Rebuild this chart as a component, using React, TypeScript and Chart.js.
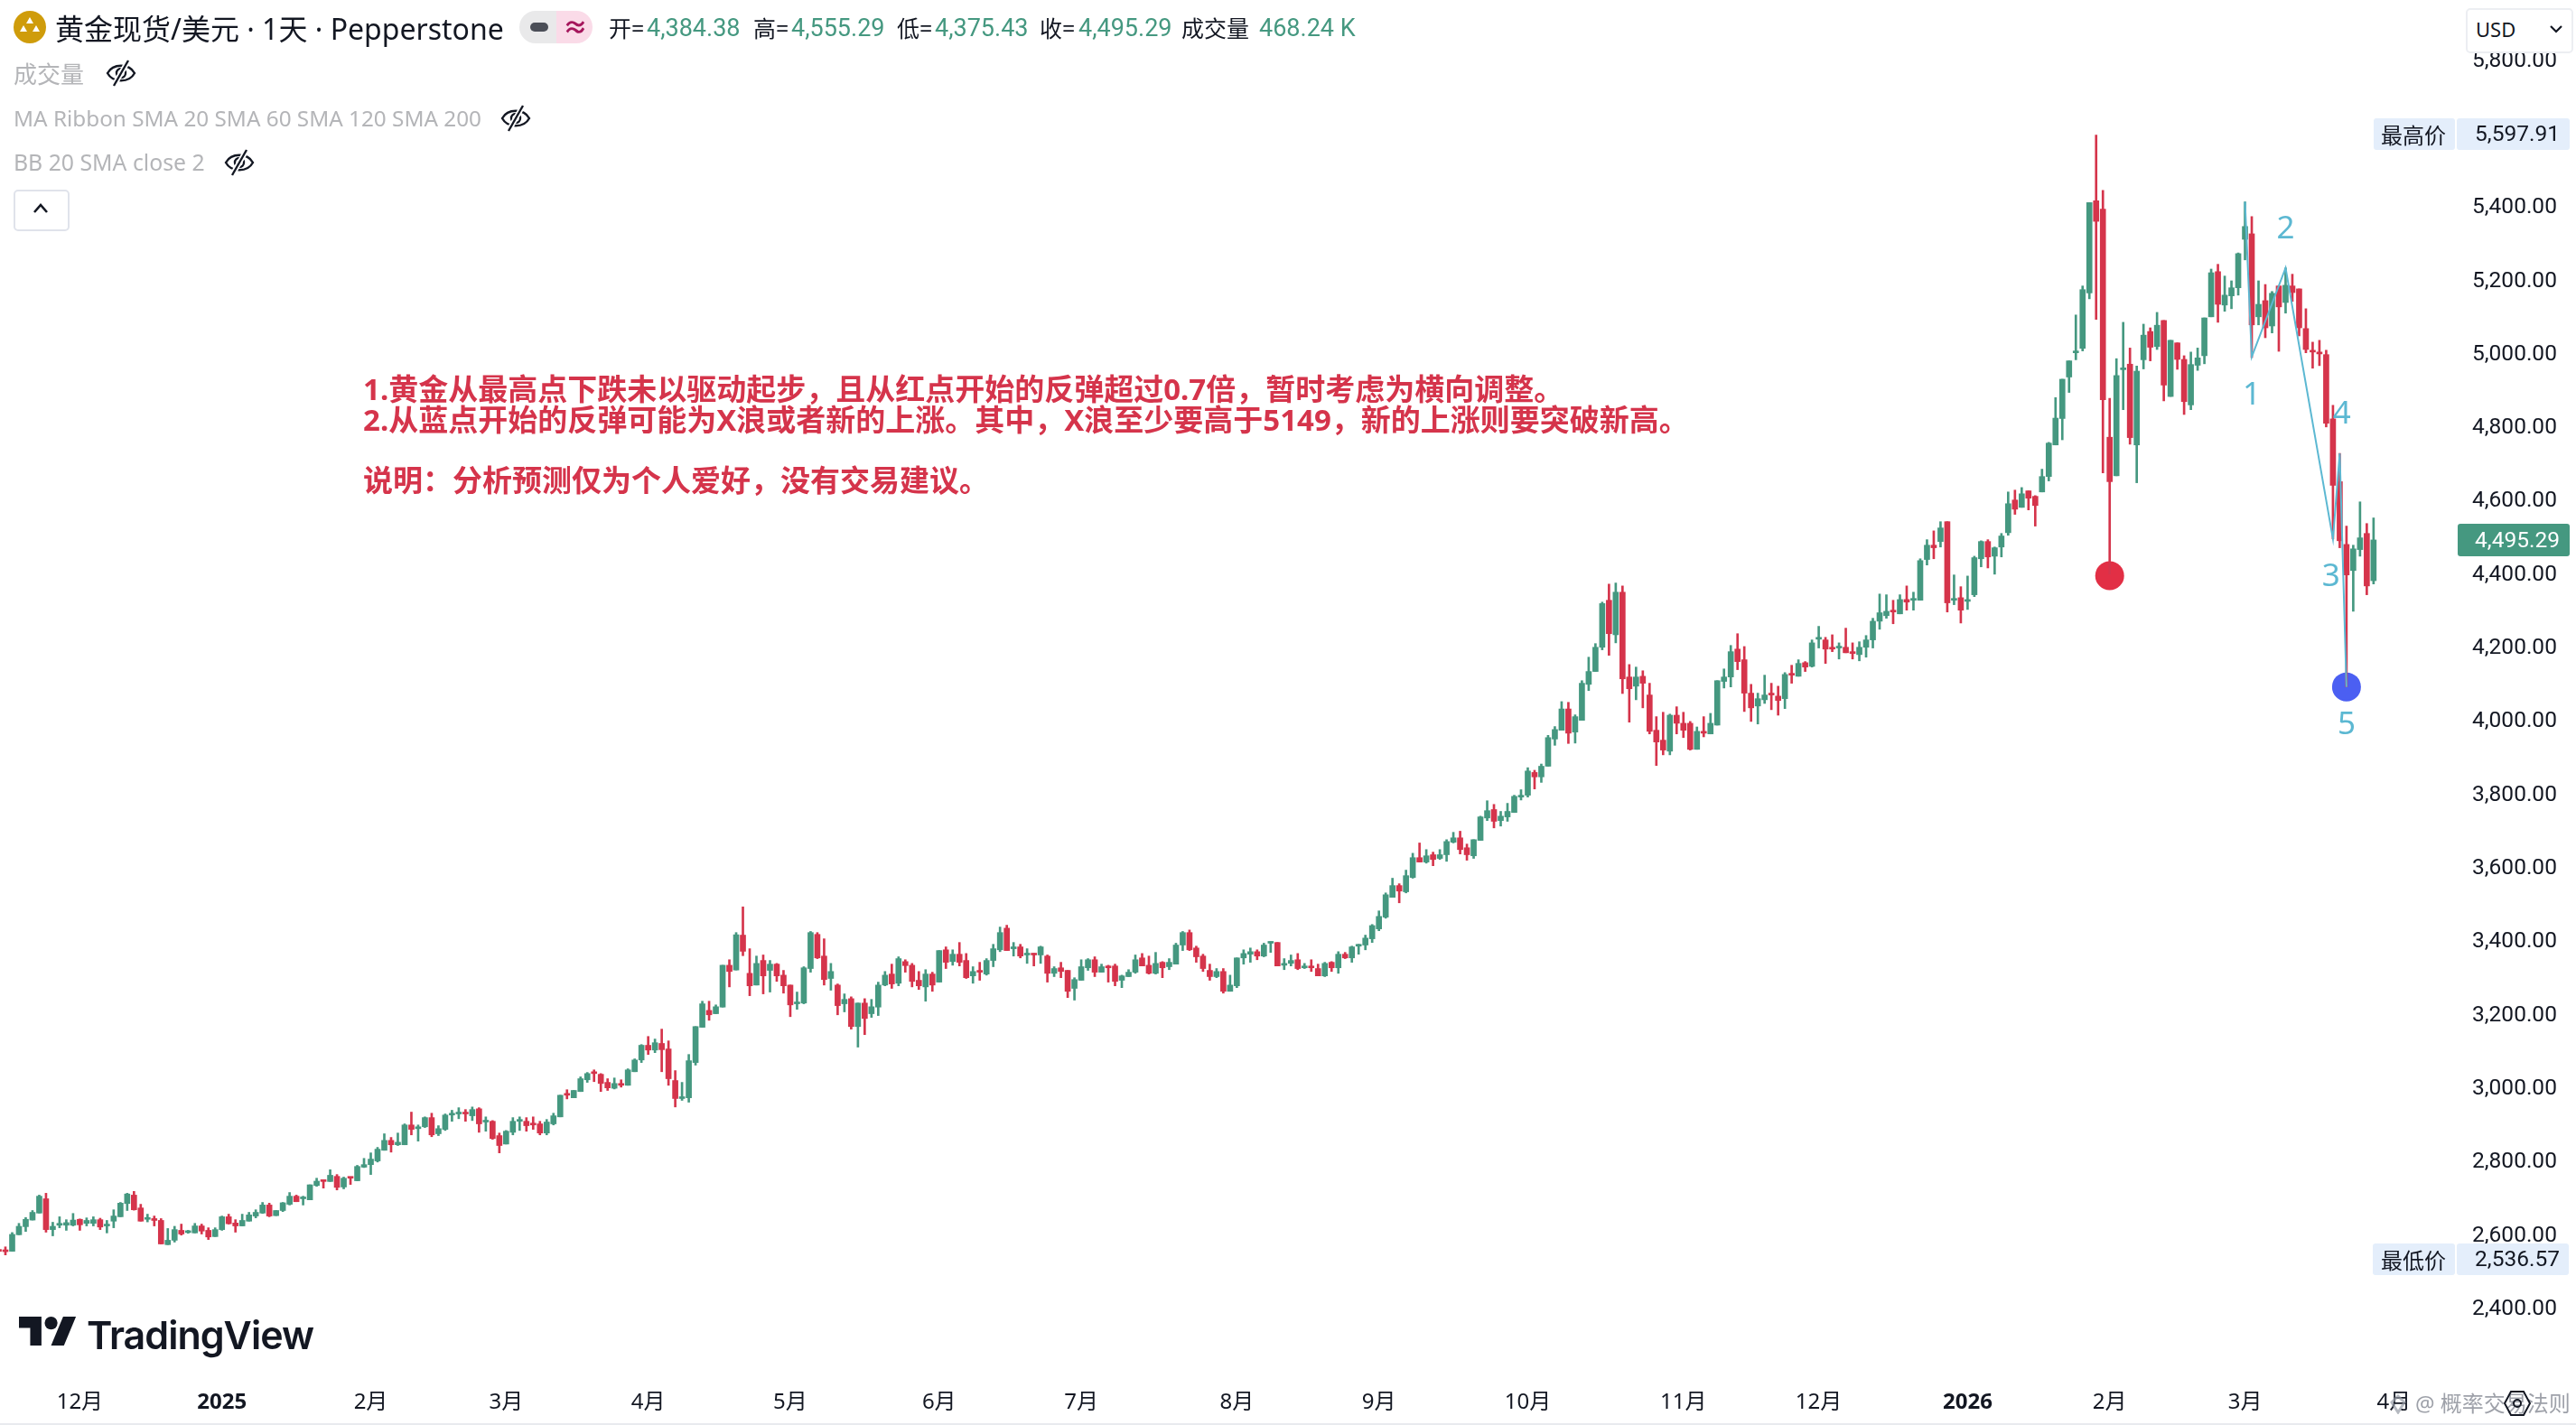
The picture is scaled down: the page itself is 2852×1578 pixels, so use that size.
import React, { useEffect, useRef } from "react";
import { Chart, registerables } from "chart.js";

Chart.register(...registerables);

const opens = [
  2563,2561,2558,2603,2625,2643,2662,2701,2617,2629,
  2629,2629,2645,2634,2634,2644,2627,2640,2652,2688,
  2711,2676,2645,2647,2642,2576,2588,2615,2609,2608,
  2627,2615,2598,2617,2652,2635,2627,2640,2654,2662,
  2684,2655,2669,2686,2708,2701,2698,2737,2752,2748,
  2762,2733,2759,2750,2787,2794,2804,2833,2860,2848,
  2848,2902,2892,2897,2922,2878,2890,2929,2932,2934,
  2927,2946,2910,2912,2873,2850,2882,2912,2912,2907,
  2905,2880,2905,2924,2986,2976,2993,3025,3045,3040,
  3018,3002,3015,3010,3047,3079,3119,3106,3124,3109,
  3023,2974,2976,3072,3168,3214,3205,3223,3337,3324,
  3419,3315,3283,3350,3323,3340,3310,3283,3232,3234,
  3328,3421,3362,3301,3283,3232,3246,3170,3234,3205,
  3223,3283,3313,3288,3347,3337,3296,3278,3313,3291,
  3379,3347,3367,3350,3308,3323,3313,3350,3379,3438,
  3382,3387,3365,3367,3365,3362,3315,3330,3323,3274,
  3296,3330,3352,3318,3335,3335,3296,3306,3318,3357,
  3337,3315,3345,3333,3340,3392,3426,3384,3362,3323,
  3306,3320,3266,3281,3357,3367,3374,3362,3397,3399,
  3337,3342,3352,3330,3333,3328,3308,3345,3330,3367,
  3357,3389,3392,3409,3436,3468,3522,3554,3537,3576,
  3630,3618,3638,3628,3638,3672,3684,3657,3635,3677,
  3738,3761,3731,3741,3753,3795,3800,3862,3850,3879,
  3953,3977,4035,3972,4004,4102,4137,4203,4331,4237,
  4353,4122,4097,4124,4073,3977,3950,3920,4018,3996,
  3996,3925,3974,3967,3991,4110,4122,4198,4169,4078,
  4043,4060,4078,4070,4063,4132,4124,4161,4151,4225,
  4223,4203,4201,4203,4191,4183,4203,4223,4274,4289,
  4304,4294,4333,4331,4331,4442,4481,4491,4545,4331,
  4338,4328,4346,4444,4491,4451,4476,4515,4604,4584,
  4629,4614,4626,4668,4754,4826,4939,5005,5017,5168,
  5419,5396,4775,4670,4959,4974,4754,4986,5063,5022,
  5093,4886,5032,4987,4863,4971,4997,5103,5226,5135,
  5160,5182,5314,5329,5103,5147,5078,5187,5142,5187,
  5179,5071,5010,5007,5000,4825,4654,4483,4412,4469,4513,4384.38,
];

const highs = [
  2566,2570,2609,2634,2650,2669,2711,2716,2637,2652,
  2644,2661,2646,2649,2652,2648,2642,2671,2691,2716,
  2721,2686,2659,2654,2647,2620,2626,2632,2615,2634,
  2632,2622,2622,2654,2659,2644,2659,2664,2671,2691,
  2689,2669,2691,2718,2711,2708,2739,2757,2752,2780,
  2767,2760,2759,2792,2811,2826,2841,2878,2868,2880,
  2905,2937,2902,2924,2934,2900,2932,2942,2949,2944,
  2951,2949,2924,2914,2880,2887,2922,2924,2922,2924,
  2912,2917,2934,2983,2998,2996,3033,3045,3052,3042,
  3028,3030,3025,3055,3082,3121,3143,3136,3163,3131,
  3050,3018,3094,3170,3239,3239,3229,3337,3352,3426,
  3496,3382,3362,3365,3350,3342,3323,3283,3264,3333,
  3429,3426,3409,3342,3286,3259,3251,3234,3246,3244,
  3291,3320,3340,3360,3352,3342,3320,3325,3318,3377,
  3387,3379,3399,3369,3333,3345,3355,3394,3441,3446,
  3399,3394,3382,3369,3389,3365,3333,3345,3323,3303,
  3352,3355,3360,3340,3337,3340,3310,3325,3365,3369,
  3362,3372,3347,3355,3397,3429,3433,3389,3367,3340,
  3328,3328,3310,3357,3379,3384,3379,3397,3401,3399,
  3355,3365,3369,3342,3352,3340,3345,3347,3374,3372,
  3389,3394,3419,3448,3485,3534,3574,3559,3596,3642,
  3670,3652,3645,3652,3679,3699,3702,3667,3679,3743,
  3785,3775,3756,3778,3800,3815,3875,3868,3885,3963,
  3987,4055,4053,4019,4112,4176,4213,4326,4375,4378,
  4370,4156,4149,4139,4105,4014,4026,4021,4041,4026,
  4001,3986,4014,4023,4112,4144,4208,4240,4205,4102,
  4078,4127,4105,4097,4134,4154,4169,4164,4223,4260,
  4230,4237,4215,4255,4215,4218,4235,4282,4348,4346,
  4331,4346,4370,4353,4444,4496,4520,4545,4545,4400,
  4368,4397,4451,4493,4496,4476,4513,4626,4631,4638,
  4629,4616,4688,4761,4883,4933,4983,5108,5187,5414,
  5597.91,5447,4881,4989,5088,5018,4969,5083,5073,5115,
  5093,5039,5032,4997,5007,5018,5100,5233,5246,5214,
  5201,5277,5416,5376,5201,5191,5172,5187,5236,5219,
  5179,5125,5034,5039,5012,4862,4731,4533,4481,4599,4540,4555.29,
];

const lows = [
  2555,2548,2558,2603,2612,2643,2662,2610,2600,2622,
  2615,2627,2615,2627,2627,2617,2608,2622,2652,2669,
  2670,2640,2638,2627,2578,2576,2583,2602,2607,2608,
  2605,2590,2598,2615,2632,2610,2627,2640,2649,2661,
  2652,2655,2666,2684,2693,2684,2698,2735,2730,2748,
  2725,2728,2740,2750,2786,2767,2801,2833,2828,2846,
  2848,2875,2858,2895,2870,2873,2887,2912,2919,2912,
  2914,2882,2885,2863,2826,2850,2875,2887,2885,2890,
  2875,2875,2902,2924,2973,2976,2993,3018,3020,2993,
  2996,3000,3005,3010,3047,3072,3094,3099,3047,3010,
  2951,2969,2964,3065,3168,3187,3205,3223,3278,3324,
  3363,3254,3283,3259,3264,3293,3261,3197,3217,3232,
  3318,3355,3283,3269,3202,3210,3163,3114,3148,3195,
  3200,3281,3274,3281,3318,3278,3271,3239,3266,3291,
  3328,3337,3335,3301,3288,3296,3310,3333,3374,3377,
  3362,3357,3342,3335,3342,3291,3306,3303,3249,3242,
  3296,3323,3306,3318,3291,3281,3276,3306,3315,3335,
  3313,3313,3303,3325,3340,3377,3377,3345,3320,3296,
  3303,3261,3266,3276,3340,3345,3352,3360,3372,3335,
  3325,3335,3325,3328,3320,3308,3306,3320,3315,3355,
  3345,3367,3379,3399,3431,3465,3522,3507,3534,3574,
  3618,3615,3608,3625,3620,3670,3640,3623,3628,3677,
  3731,3711,3716,3729,3753,3787,3795,3817,3835,3879,
  3936,3977,3941,3942,4004,4085,4137,4196,4181,4215,
  4077,3999,4060,4038,3967,3881,3910,3910,3967,3957,
  3923,3925,3959,3967,3991,4092,4095,4142,4028,4001,
  3994,4050,4033,4018,4036,4105,4124,4137,4149,4201,
  4159,4191,4171,4188,4171,4166,4176,4201,4252,4282,
  4267,4294,4304,4304,4331,4427,4444,4476,4299,4319,
  4269,4306,4341,4422,4419,4402,4449,4508,4565,4584,
  4577,4533,4626,4656,4754,4768,4897,4986,5010,5152,
  5096,4678,4402,4670,4850,4756,4651,4961,4983,5014,
  4874,4886,4960,4837,4850,4957,4975,5103,5088,5118,
  5125,5162,5258,4992,5081,5046,5059,5009,5113,5145,
  5051,5005,4963,4970,4803,4498,4474,4095,4301,4451,4346,4375.43,
];

const closes = [
  2558,2557,2604,2626,2645,2664,2708,2617,2626,2634,
  2636,2643,2630,2642,2644,2624,2630,2654,2689,2714,
  2671,2640,2649,2642,2578,2588,2617,2605,2612,2627,
  2613,2597,2617,2652,2633,2627,2642,2657,2664,2684,
  2654,2669,2690,2708,2693,2703,2739,2749,2748,2765,
  2732,2757,2757,2789,2794,2809,2836,2860,2848,2855,
  2902,2890,2897,2922,2875,2892,2929,2932,2934,2932,
  2944,2905,2912,2865,2846,2885,2912,2917,2900,2902,
  2880,2910,2927,2983,2983,2996,3028,3042,3042,3015,
  3003,3015,3010,3052,3079,3119,3106,3126,3107,3028,
  2974,2978,3077,3170,3232,3202,3224,3337,3320,3420,
  3375,3281,3342,3308,3340,3308,3281,3229,3237,3330,
  3426,3357,3298,3320,3227,3244,3170,3234,3192,3224,
  3283,3310,3286,3355,3336,3293,3281,3313,3283,3377,
  3345,3367,3345,3303,3320,3318,3350,3382,3426,3377,
  3387,3362,3367,3365,3387,3315,3328,3320,3266,3298,
  3333,3352,3318,3333,3330,3293,3308,3318,3352,3335,
  3315,3342,3330,3345,3392,3426,3379,3360,3328,3306,
  3320,3266,3283,3357,3369,3374,3362,3392,3399,3335,
  3342,3350,3328,3335,3330,3308,3342,3330,3367,3357,
  3387,3392,3411,3445,3470,3529,3554,3539,3581,3630,
  3618,3635,3625,3638,3674,3684,3652,3638,3679,3741,
  3758,3729,3743,3756,3797,3800,3866,3850,3879,3957,
  3979,4035,3969,4014,4105,4137,4203,4322,4240,4353,
  4117,4090,4122,4105,3974,3945,3923,4018,3996,3977,
  3925,3974,3969,3996,4112,4122,4191,4164,4078,4038,
  4063,4073,4073,4058,4129,4127,4159,4149,4215,4230,
  4198,4198,4205,4188,4186,4203,4223,4274,4297,4301,
  4299,4333,4326,4336,4439,4481,4474,4528,4324,4336,
  4304,4331,4447,4491,4449,4474,4506,4594,4579,4621,
  4609,4589,4668,4759,4827,4933,4983,5007,5177,5414,
  5363,4877,4654,4943,4962,4774,4955,5053,5020,5080,
  4917,5039,4987,4872,4973,4991,5100,5223,5137,5162,
  5182,5275,5349,5081,5137,5073,5167,5130,5189,5169,
  5073,5014,5007,5002,4813,4644,4493,4400,4471,4501,4370,4495.29,
];

const monthIndex = [12, 33, 55, 75, 96, 117, 139, 160, 183, 204, 226, 249, 269, 291, 312, 332, 354];
const monthLabels = ["12月", "2025", "2月", "3月", "4月", "5月", "6月", "7月", "8月", "9月", "10月", "11月", "12月", "2026", "2月", "3月", "4月"];
const priceTicks = [2400, 2600, 2800, 3000, 3200, 3400, 3600, 3800, 4000, 4200, 4400, 4600, 4800, 5000, 5200, 5400, 5600, 5800];

const waveIndex = [332, 333, 338, 345, 346, 347];
const wavePrice = [5416, 4994, 5236, 4498, 4731, 4095];
const waveLabelText = ["1", "2", "3", "4", "5"];
const waveLabelIndex = [333, 338, 344.7, 346.3, 347];
const waveLabelPrice = [4889, 5342, 4394, 4836, 3990];
const dotIndex = [312, 347];
const dotPrice = [4398, 4095];
const dotColor = ["#e22f45", "#4b5ff2"];

const GREEN = "#459880";
const RED = "#d5344b";
const WAVE = "#5cb8d2";
const UI_FONT = '"Noto Sans","Noto Sans CJK SC",sans-serif';
const NUM_FONT = 'Roboto,"Noto Sans CJK SC",sans-serif';

const isUp = (i: number) => closes[i] >= opens[i];
const candleColor = (c: any) => (isUp(c.dataIndex) ? GREEN : RED);

const waveLabelPlugin = {
  id: "waveLabels",
  afterDatasetsDraw(chart: any) {
    const { ctx, scales } = chart;
    ctx.save();
    ctx.font = `35px ${UI_FONT}`;
    ctx.fillStyle = WAVE;
    ctx.textAlign = "center";
    ctx.textBaseline = "middle";
    waveLabelText.forEach((t, i) => {
      ctx.fillText(t, scales.x.getPixelForValue(waveLabelIndex[i]), scales.y.getPixelForValue(waveLabelPrice[i]));
    });
    ctx.restore();
  },
};

function Txt({ x, y, size = 25, color = "#131722", weight = 400, right, font = UI_FONT, children }: any) {
  const style: any = {
    position: "absolute",
    top: y - size,
    height: size * 2,
    lineHeight: `${size * 2}px`,
    fontSize: size,
    color,
    fontWeight: weight,
    fontFamily: font,
    whiteSpace: "nowrap",
  };
  if (right !== undefined) style.right = 2852 - right;
  else style.left = x;
  return <div style={style}>{children}</div>;
}

function EyeOff({ x, y }: { x: number; y: number }) {
  return (
    <svg style={{ position: "absolute", left: x, top: y }} width="36" height="30" viewBox="0 0 36 30" fill="none" stroke="#131722" strokeWidth="2.4">
      <path d="M3 15C9 4 27 4 33 15C27 26 9 26 3 15Z" />
      <circle cx="18" cy="15" r="5" />
      <path d="M10 29L26 1" stroke="#fff" strokeWidth="6" />
      <path d="M10 29L26 1" />
    </svg>
  );
}

function Box({ x, y, w, h, bg, radius = 3 }: any) {
  return <div style={{ position: "absolute", left: x, top: y, width: w, height: h, background: bg, borderRadius: radius }} />;
}

export default function App() {
  const ref = useRef<HTMLCanvasElement>(null);

  useEffect(() => {
    document.body.style.margin = "0";
    document.body.style.background = "#fff";
    const idx = opens.map((_, i) => i);
    const chart = new Chart(ref.current as HTMLCanvasElement, {
      type: "bar",
      data: {
        datasets: [
          {
            type: "line",
            data: waveIndex.map((x, i) => ({ x, y: wavePrice[i] })),
            borderColor: WAVE,
            borderWidth: 2,
            pointRadius: 0,
            tension: 0,
            order: 1,
          },
          {
            type: "bar",
            data: idx.map((i) => ({ x: i, y: [opens[i], closes[i]] })),
            backgroundColor: candleColor,
            barThickness: 6,
            minBarLength: 2,
            grouped: false,
            order: 2,
          },
          {
            type: "bar",
            data: idx.map((i) => ({ x: i, y: [lows[i], highs[i]] })),
            backgroundColor: candleColor,
            barThickness: 2,
            grouped: false,
            order: 3,
          },
          {
            type: "line",
            data: dotIndex.map((x, i) => ({ x, y: dotPrice[i] })),
            showLine: false,
            pointRadius: 16,
            pointBackgroundColor: dotColor,
            pointBorderWidth: 0,
            order: 4,
          },
        ],
      } as any,
      options: {
        animation: false,
        responsive: false,
        devicePixelRatio: 1,
        layout: { padding: 0, autoPadding: false },
        plugins: { legend: { display: false }, tooltip: { enabled: false } },
        scales: {
          x: {
            type: "linear",
            offset: false,
            min: 0.2,
            max: 363.3,
            grid: { display: false, offset: false },
            border: { display: false },
            afterBuildTicks: (s: any) => {
              s.ticks = monthIndex.map((value) => ({ value }));
            },
            afterFit: (s: any) => {
              s.height = 58;
              s.paddingLeft = 0;
              s.paddingRight = 0;
            },
            ticks: {
              autoSkip: false,
              maxRotation: 0,
              padding: 11,
              color: "#131722",
              font: (c: any) => ({
                family: UI_FONT,
                size: 24,
                weight: monthLabels[monthIndex.indexOf(c.tick?.value)]?.length === 4 ? 700 : 400,
              }),
              callback: (v: any) => monthLabels[monthIndex.indexOf(v)],
            },
          },
          y: {
            position: "right",
            min: 2227.5,
            max: 5965.8,
            grid: { display: false },
            border: { display: false },
            afterBuildTicks: (s: any) => {
              s.ticks = priceTicks.map((value) => ({ value }));
            },
            afterFit: (s: any) => {
              s.width = 132;
              s.paddingTop = 0;
              s.paddingBottom = 0;
            },
            ticks: {
              autoSkip: false,
              padding: 9,
              color: "#131722",
              font: { family: NUM_FONT, size: 24.5 },
              callback: (v: any) => Number(v).toLocaleString("en-US", { minimumFractionDigits: 2, maximumFractionDigits: 2 }),
            },
          },
        },
      } as any,
      plugins: [waveLabelPlugin] as any,
    });
    return () => chart.destroy();
  }, []);

  return (
    <div style={{ position: "relative", width: 2852, height: 1578, overflow: "hidden", background: "#fff" }}>
      <canvas ref={ref} width={2852} height={1578} style={{ display: "block", width: 2852, height: 1578 }} />

      <Box x={2721} y={0} w={131} h={58} bg="#fff" radius={0} />
      <svg style={{ position: "absolute", left: 15, top: 12 }} width="36" height="36" viewBox="0 0 36 36">
        <circle cx="18" cy="18" r="18" fill="#cf9c0b" />
        <path d="M18 7l4 7h-8zM11 16l4 7H7zM25 16l4 7h-8z" fill="#fff" />
      </svg>
      <Txt x={61} y={32} size={32}>黄金现货/美元 · 1天 · Pepperstone</Txt>
      <div style={{ position: "absolute", left: 575, top: 12, width: 41, height: 36, background: "#e9e9ea", borderRadius: "18px 0 0 18px" }} />
      <div style={{ position: "absolute", left: 616, top: 12, width: 40, height: 36, background: "#fadbe8", borderRadius: "0 18px 18px 0" }} />
      <Box x={587} y={25} w={20} h={10} bg="#4b4e57" radius={5} />
      <Txt x={623} y={30} size={28} color="#a5165c" weight={700}>≈</Txt>

      <Txt x={674} y={31}>开=</Txt><Txt x={716} y={31} size={27} font={NUM_FONT} color={GREEN}>4,384.38</Txt>
      <Txt x={834} y={31}>高=</Txt><Txt x={876} y={31} size={27} font={NUM_FONT} color={GREEN}>4,555.29</Txt>
      <Txt x={993} y={31}>低=</Txt><Txt x={1035} y={31} size={27} font={NUM_FONT} color={GREEN}>4,375.43</Txt>
      <Txt x={1151} y={31}>收=</Txt><Txt x={1194} y={31} size={27} font={NUM_FONT} color={GREEN}>4,495.29</Txt>
      <Txt x={1308} y={31}>成交量</Txt><Txt x={1394} y={31} size={27} font={NUM_FONT} color={GREEN}>468.24 K</Txt>

      <Txt x={15} y={82} size={26} color="#b4b5b8">成交量</Txt><EyeOff x={116} y={66} />
      <Txt x={15} y={131} size={24.3} color="#b4b5b8">MA Ribbon SMA 20 SMA 60 SMA 120 SMA 200</Txt><EyeOff x={553} y={116} />
      <Txt x={15} y={180} size={24.8} color="#b4b5b8">BB 20 SMA close 2</Txt><EyeOff x={247} y={165} />
      <div style={{ position: "absolute", left: 15, top: 210, width: 58, height: 42, border: "2px solid #e0e3eb", borderRadius: 5 }} />
      <svg style={{ position: "absolute", left: 35, top: 222 }} width="20" height="16" viewBox="0 0 20 16" fill="none" stroke="#131722" strokeWidth="2.6">
        <path d="M3 13L10 5l7 8" />
      </svg>

      <div style={{ position: "absolute", left: 2730, top: 9, width: 115, height: 46, background: "#fff", border: "2px solid #eceef2", borderRadius: 5 }} />
      <Txt x={2741} y={32} size={22}>USD</Txt>
      <svg style={{ position: "absolute", left: 2822, top: 26 }} width="16" height="12" viewBox="0 0 16 12" fill="none" stroke="#131722" strokeWidth="2.2">
        <path d="M2 3l6 6 6-6" />
      </svg>

      <Txt x={402} y={431} size={33} color={RED} weight={700}>1.黄金从最高点下跌未以驱动起步，且从红点开始的反弹超过0.7倍，暂时考虑为横向调整。</Txt>
      <Txt x={402} y={465} size={33} color={RED} weight={700}>2.从蓝点开始的反弹可能为X浪或者新的上涨。其中，X浪至少要高于5149，新的上涨则要突破新高。</Txt>
      <Txt x={402} y={532} size={33} color={RED} weight={700}>说明：分析预测仅为个人爱好，没有交易建议。</Txt>

      <Box x={2628} y={131} w={90} h={35} bg="#e4eefb" />
      <Box x={2720} y={131} w={125} h={35} bg="#e4eefb" />
      <Txt x={2636} y={150} size={24}>最高价</Txt>
      <Txt right={2834} y={147} size={24.5} font={NUM_FONT}>5,597.91</Txt>

      <Box x={2721} y={580} w={124} h={36} bg={GREEN} />
      <Txt right={2834} y={597} size={24.5} font={NUM_FONT} color="#fff">4,495.29</Txt>

      <Box x={2627} y={1377} w={91} h={35} bg="#e4eefb" />
      <Box x={2720} y={1377} w={124} h={35} bg="#e4eefb" />
      <Txt x={2636} y={1396} size={24}>最低价</Txt>
      <Txt right={2834} y={1393} size={24.5} font={NUM_FONT}>2,536.57</Txt>

      <svg style={{ position: "absolute", left: 21, top: 1458 }} width="64" height="32" viewBox="0 4 36 18" fill="#131722">
        <path d="M14 22H7V11H0V4h14z" />
        <path d="M28 22h-8l7.5-18h8z" />
        <circle cx="20" cy="8" r="4" />
      </svg>
      <div style={{ position: "absolute", left: 96, top: 1450, height: 56, lineHeight: "56px", fontSize: 43, fontWeight: 600, fontFamily: "Inter,sans-serif", letterSpacing: -1, color: "#131722", whiteSpace: "nowrap" }}>
        TradingView
      </div>

      <svg style={{ position: "absolute", left: 2646, top: 1544 }} width="18" height="22" viewBox="0 0 18 22" fill="none" stroke="rgba(150,155,165,0.7)" strokeWidth="3">
        <path d="M9 2L16 9L9 20L2 9Z" />
      </svg>
      <Txt x={2674} y={1554} size={24} color="rgba(125,130,140,0.75)">@ 概率交易法则</Txt>
      <svg style={{ position: "absolute", left: 2771, top: 1538 }} width="32" height="32" viewBox="0 0 32 32" fill="none" stroke="#131722" strokeWidth="2">
        <path d="M9 3h14l7 13-7 13H9L2 16z" />
        <circle cx="16" cy="16" r="4" />
      </svg>
      <Box x={0} y={1576} w={2852} h={2} bg="#e8eaee" radius={0} />
    </div>
  );
}
